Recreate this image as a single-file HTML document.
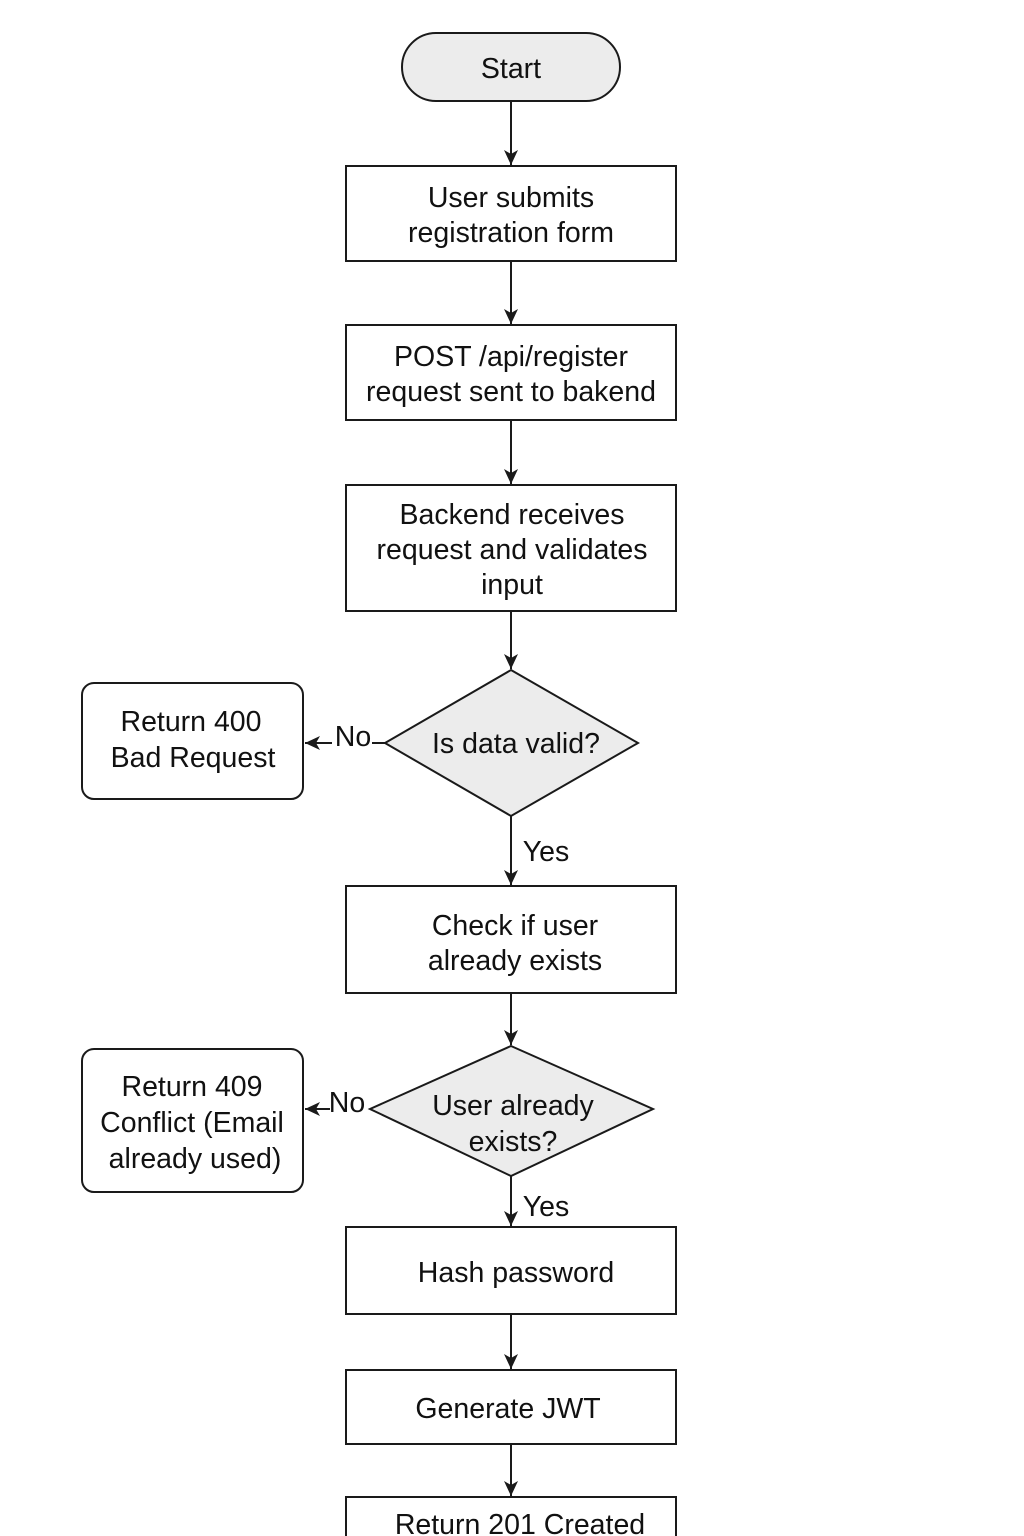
<!DOCTYPE html>
<html><head><meta charset="utf-8"><style>
html,body{margin:0;padding:0;background:#fff;}
svg{display:block;}
text{font-family:"Liberation Sans",sans-serif;font-size:28.5px;fill:#111;text-anchor:middle;}
.s{stroke:#1a1a1a;stroke-width:2;fill:none;}
.b{stroke:#1a1a1a;stroke-width:2;fill:#fff;}
.g{stroke:#1a1a1a;stroke-width:2;fill:#ececec;}
</style></head><body>
<svg width="1024" height="1536" viewBox="0 0 1024 1536" xmlns="http://www.w3.org/2000/svg">
<defs><marker id="a" markerWidth="16" markerHeight="14" refX="15" refY="7" orient="auto" markerUnits="userSpaceOnUse">
<path d="M0,0 L15,7 L0,14 L4,7 Z" fill="#1a1a1a"/></marker></defs>

<rect x="402" y="33" width="218" height="68" rx="34" class="g"/>
<text x="511" y="78">Start</text>

<line x1="511" y1="101" x2="511" y2="165" class="s" marker-end="url(#a)"/>
<rect x="346" y="166" width="330" height="95" class="b"/>
<text x="511" y="207">User submits</text><text x="511" y="242">registration form</text>

<line x1="511" y1="261" x2="511" y2="324" class="s" marker-end="url(#a)"/>
<rect x="346" y="325" width="330" height="95" class="b"/>
<text x="511" y="366">POST /api/register</text><text x="511" y="401">request sent to bakend</text>

<line x1="511" y1="420" x2="511" y2="484" class="s" marker-end="url(#a)"/>
<rect x="346" y="485" width="330" height="126" class="b"/>
<text x="512" y="524">Backend receives</text><text x="512" y="559">request and validates</text><text x="512" y="594">input</text>

<line x1="511" y1="611" x2="511" y2="669" class="s" marker-end="url(#a)"/>
<polygon points="511,670 638,743 511,816 385,743" class="g"/>
<text x="516" y="753">Is data valid?</text>

<rect x="82" y="683" width="221" height="116" rx="12" class="b"/>
<text x="191" y="731">Return 400</text><text x="193" y="767">Bad Request</text>
<line x1="385" y1="743" x2="372" y2="743" class="s"/>
<line x1="332" y1="743" x2="305" y2="743" class="s" marker-end="url(#a)"/>
<text x="353" y="746">No</text>

<line x1="511" y1="816" x2="511" y2="885" class="s" marker-end="url(#a)"/>
<text x="546" y="861">Yes</text>
<rect x="346" y="886" width="330" height="107" class="b"/>
<text x="515" y="935">Check if user</text><text x="515" y="970">already exists</text>

<line x1="511" y1="993" x2="511" y2="1045" class="s" marker-end="url(#a)"/>
<polygon points="511,1046 653,1109 511,1176 370,1109" class="g"/>
<text x="513" y="1115">User already</text><text x="513" y="1151">exists?</text>

<rect x="82" y="1049" width="221" height="143" rx="12" class="b"/>
<text x="192" y="1096">Return 409</text><text x="192" y="1132">Conflict (Email</text><text x="195" y="1168">already used)</text>
<line x1="330" y1="1109" x2="305" y2="1109" class="s" marker-end="url(#a)"/>
<text x="347" y="1112">No</text>

<line x1="511" y1="1176" x2="511" y2="1226" class="s" marker-end="url(#a)"/>
<text x="546" y="1216">Yes</text>
<rect x="346" y="1227" width="330" height="87" class="b"/>
<text x="516" y="1282">Hash password</text>

<line x1="511" y1="1314" x2="511" y2="1369" class="s" marker-end="url(#a)"/>
<rect x="346" y="1370" width="330" height="74" class="b"/>
<text x="508" y="1418">Generate JWT</text>

<line x1="511" y1="1444" x2="511" y2="1496" class="s" marker-end="url(#a)"/>
<rect x="346" y="1497" width="330" height="80" class="b"/>
<text x="520" y="1534">Return 201 Created</text>
</svg>
</body></html>
